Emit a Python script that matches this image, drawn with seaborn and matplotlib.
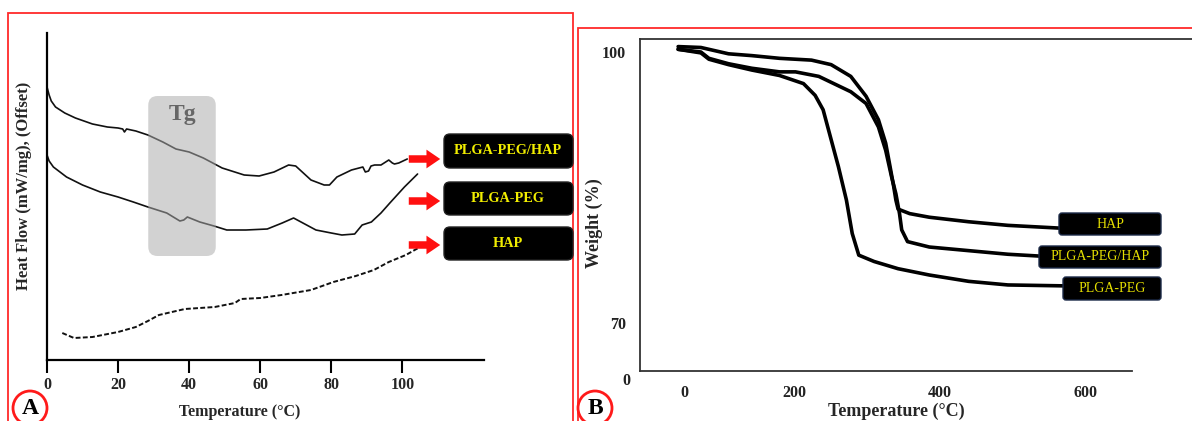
import numpy as np
import pandas as pd
import matplotlib
matplotlib.use("Agg")
import matplotlib.pyplot as plt
from matplotlib.patches import FancyBboxPatch, Rectangle, Ellipse, FancyArrowPatch
import seaborn as sns

# ---- panel A: DSC curves (heat flow, offset, arbitrary units) ----
blend_t = [0, 0.6, 1.2, 2.4, 5, 8, 12.8, 17, 20, 21.3, 21.8, 22.4, 25, 28.4, 32.6, 36.3, 40, 44,
           49.3, 55.5, 59.7, 63.9, 68, 70, 74.3, 78, 79.5, 81.6, 85.7, 88.9, 89.6, 90.5, 91.2, 92.2,
           94, 96.2, 97.2, 97.8, 99, 101.4]
blend_hf = [273, 265, 259, 253, 247, 242, 236, 233, 232, 231, 228, 231, 229, 225, 218, 211, 208, 202,
            192, 185, 184, 188, 195, 194, 180, 175, 175, 183, 190, 193, 188, 189, 194, 195,
            195, 200, 197, 196, 197, 201]

copo_t = [0, 0.6, 1.8, 5.5, 10, 15, 20, 24.3, 28.4, 33.7, 37.4, 38.5, 39.5, 43, 47, 50.6, 56, 62,
          66.2, 69.4, 71.5, 75.7, 80, 83, 86.6, 88.7, 91.3, 94, 96.5, 100.6, 104.3]
copo_hf = [205, 199, 193, 183, 175, 168, 163, 158, 153, 147, 139, 140, 143, 138, 134, 130, 130, 131,
           137, 142, 138, 130, 127, 125, 126, 135, 138, 147, 157, 173, 186]

hap_t = [4.3, 7.6, 12.8, 20, 25, 28.4, 31.5, 38.8, 47.2, 52.9, 54.5, 60, 66, 74.3, 80.6, 86.9,
         92, 96.2, 101, 104.5]
hap_hf = [27, 22, 23, 28, 33, 39, 45, 51, 53, 57, 61, 62, 65, 70, 78, 84, 90, 98, 105, 112]

dsc_labels = ["PLGA-PEG/HAP", "PLGA-PEG", "HAP"]
dsc_xticks = [0, 20, 40, 60, 80, 100]

# ---- panel B: TGA curves (weight %) ----
tga_hap_t = [40.7, 72, 110, 142, 180, 224, 251, 278, 299, 316, 326, 332, 337, 340, 343, 359, 386,
             440, 494, 564]
tga_hap_w = [100.6, 100.5, 99.8, 99.6, 99.3, 99.1, 98.6, 97.3, 95.1, 92.5, 89.9, 87.3, 85.1, 83.6,
             82.6, 82.1, 81.7, 81.2, 80.8, 80.5]

tga_blend_t = [40.7, 72, 83, 110, 142, 180, 202, 234, 278, 299, 316, 326, 334, 340, 345, 348, 356,
               386, 440, 494, 537]
tga_blend_w = [100.3, 100.0, 99.3, 98.7, 98.2, 97.8, 97.8, 97.3, 95.6, 94.3, 91.7, 89.1, 86.2, 84.3,
               82.1, 80.3, 79.0, 78.4, 78.0, 77.6, 77.4]

tga_copo_t = [40.7, 72, 83, 110, 142, 180, 213, 229, 240, 251, 261, 272, 280, 289, 310, 343, 386,
              440, 494, 570]
tga_copo_w = [100.3, 99.9, 99.2, 98.6, 98.0, 97.4, 96.5, 95.2, 93.6, 90.3, 87.3, 83.6, 79.9, 77.5,
              76.8, 76.0, 75.3, 74.6, 74.2, 74.1]

tga_labels = ["HAP", "PLGA-PEG/HAP", "PLGA-PEG"]
tga_xtick_pos = [49, 200, 400, 600]
tga_xtick_lab = ["0", "200", "400", "600"]

sns.set_theme(style="white")
plt.rcParams["font.family"] = ["Liberation Serif", "DejaVu Sans"]

W, H = 1192, 421
fig = plt.figure(figsize=(W / 100, H / 100), dpi=100)


def fx(px):
    return px / W


def fy(py):
    return 1 - py / H


def rbox(x0, y0, x1, y1, r, **kw):
    # rounded box in figure pixels (top-left origin)
    p = FancyBboxPatch((fx(x0), fy(y1)), fx(x1 - x0), (y1 - y0) / H,
                       boxstyle="round,pad=0,rounding_size=%f" % (r / W),
                       mutation_aspect=W / H, transform=fig.transFigure, **kw)
    fig.patches.append(p)


# panel frames
fig.patches.append(Rectangle((fx(8), -0.1), fx(565), fy(13) + 0.1, transform=fig.transFigure,
                             fill=False, ec="#ff2a2a", lw=1.3))
fig.patches.append(Rectangle((fx(578), -0.1), fx(700), fy(28) + 0.1, transform=fig.transFigure,
                             fill=False, ec="#ff2a2a", lw=1.3))

# ---------------- panel A ----------------
axA = fig.add_axes([fx(47), fy(360), fx(437), (360 - 33) / H])
dfa = pd.DataFrame({"t": blend_t, "hf": blend_hf})
dfb = pd.DataFrame({"t": copo_t, "hf": copo_hf})
dfc = pd.DataFrame({"t": hap_t, "hf": hap_hf})
sns.lineplot(data=dfa, x="t", y="hf", ax=axA, color="#111111", lw=1.2, sort=False, estimator=None)
sns.lineplot(data=dfb, x="t", y="hf", ax=axA, color="#111111", lw=1.2, sort=False, estimator=None)
sns.lineplot(data=dfc, x="t", y="hf", ax=axA, color="#111111", lw=1.4, sort=False, estimator=None,
             linestyle=(0, (2.5, 1.2)))
axA.set_xlim(0, 123)
axA.set_ylim(0, 327)
for s in ["top", "right"]:
    axA.spines[s].set_visible(False)
for s in ["left", "bottom"]:
    axA.spines[s].set_color("black")
    axA.spines[s].set_linewidth(1.6)
axA.set_xticks(dsc_xticks)
axA.set_yticks([])
axA.tick_params(axis="x", direction="out", length=9, width=1.5, color="black", pad=3,
                labelsize=11.5, bottom=True)
for lab in axA.get_xticklabels():
    lab.set_fontweight("bold")
axA.set_xlabel("Temperature (°C)", fontsize=11.5, fontweight="bold")
axA.xaxis.set_label_coords(0.44, -0.135)
axA.set_ylabel("Heat Flow (mW/mg), (Offset)", fontsize=12, fontweight="bold")
axA.yaxis.set_label_coords(-0.034, 0.532)

# Tg region
tg = FancyBboxPatch((28.5, 104), 19, 160, boxstyle="round,pad=0,rounding_size=2.6",
                    mutation_aspect=3.55, fc=(171 / 255, 171 / 255, 171 / 255), ec="none",
                    alpha=0.53, zorder=5)
axA.add_patch(tg)
axA.text(38, 245, "Tg", ha="center", va="center", fontsize=17, fontweight="bold",
         color="#666666", zorder=6)

# labels and arrows
box_rows = [(134, 168), (182, 215), (227, 260)]
arrow_y = [159, 201, 245]
for name, (y0, y1), ay in zip(dsc_labels, box_rows, arrow_y):
    rbox(444, y0, 573, y1, 6, fc="black", ec="#222222", lw=1)
    fig.text(fx(508), fy((y0 + y1) / 2), name, ha="center", va="center", color="#f2ee00",
             fontsize=10.3, fontweight="bold")
    fig.patches.append(FancyArrowPatch(
        (fx(406), fy(ay)), (fx(443), fy(ay)), transform=fig.transFigure,
        arrowstyle="simple,head_width=0.75,head_length=0.55,tail_width=0.3",
        mutation_scale=18, color="#ff1010", lw=0))

# ---------------- panel B ----------------
axB = fig.add_axes([fx(640), fy(371), 1 - fx(640), (371 - 39) / H])
for t, w in [(tga_hap_t, tga_hap_w), (tga_blend_t, tga_blend_w), (tga_copo_t, tga_copo_w)]:
    sns.lineplot(x=t, y=w, ax=axB, color="black", lw=2.6, sort=False, estimator=None)
axB.set_xlim(-11.7, 747)
axB.set_ylim(64.67, 101.44)
axB.spines["right"].set_visible(False)
for s in ["left", "bottom", "top"]:
    axB.spines[s].set_color("#333333")
    axB.spines[s].set_linewidth(1.3)
axB.spines["bottom"].set_bounds(-11.7, 665)
axB.set_xticks(tga_xtick_pos)
axB.set_xticklabels(tga_xtick_lab)
axB.set_yticks([100, 70])
axB.tick_params(axis="both", length=0, labelsize=11.5, colors="#222222")
axB.tick_params(axis="x", pad=10)
axB.tick_params(axis="y", pad=10)
for lab in axB.get_xticklabels() + axB.get_yticklabels():
    lab.set_fontweight("bold")
axB.text(-0.018, -0.03, "0", transform=axB.transAxes, ha="right", va="center", fontsize=11.5,
         fontweight="bold", color="#222222")
axB.set_xlabel("Temperature (°C)", fontsize=13, fontweight="bold")
axB.xaxis.set_label_coords(0.464, -0.095)
axB.set_ylabel("Weight (%)", fontsize=13, fontweight="bold")
axB.yaxis.set_label_coords(-0.067, 0.446)

tga_boxes = [(1059, 213, 235), (1039, 246, 268), (1063, 277, 300)]
for name, (x0, y0, y1) in zip(tga_labels, tga_boxes):
    rbox(x0, y0, 1161, y1, 3, fc="black", ec="#1c2a48", lw=1)
    fig.text(fx((x0 + 1161) / 2), fy((y0 + y1) / 2), name, ha="center", va="center",
             color="#e6e000", fontsize=10)

# panel letters
for letter, cx in [("A", 30), ("B", 595)]:
    fig.patches.append(Ellipse((fx(cx), fy(408)), fx(34), 34 / H, transform=fig.transFigure,
                               fc="white", ec="#ff1a1a", lw=2))
    fig.text(fx(cx), fy(409), letter, ha="center", va="center", fontsize=17,
             fontweight="bold", color="black")

fig.savefig("out.png", dpi=100)
